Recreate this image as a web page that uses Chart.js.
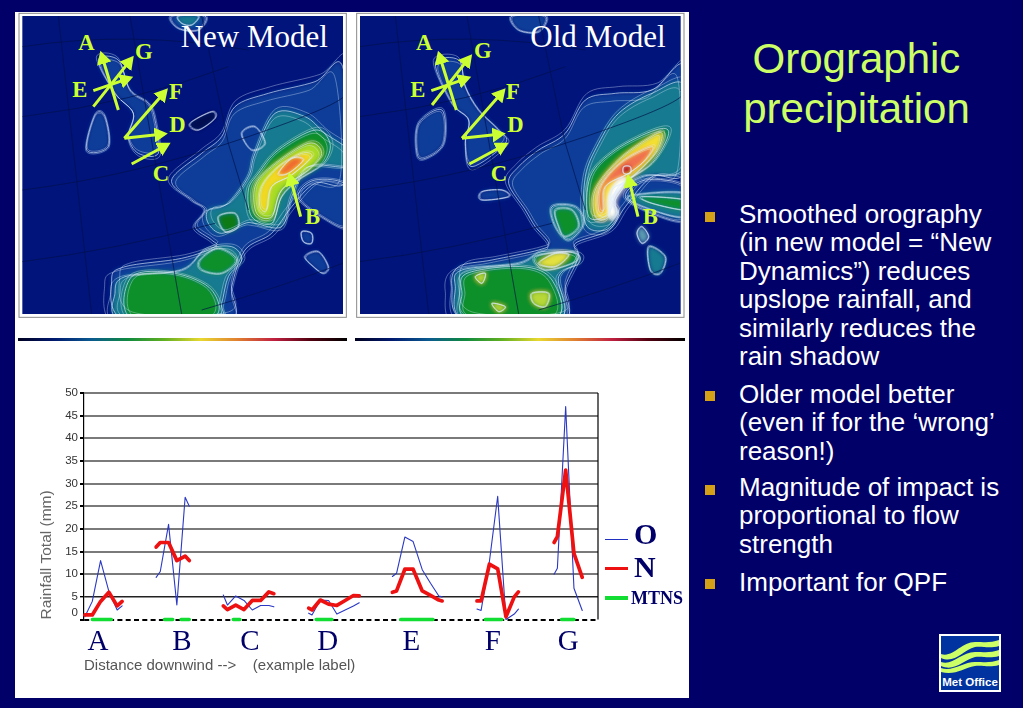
<!DOCTYPE html>
<html>
<head>
<meta charset="utf-8">
<title>Orographic precipitation</title>
<script src="https://cdn.jsdelivr.net/npm/chart.js@4/dist/chart.umd.min.js"></script>
<style>
    html, body { margin: 0; padding: 0; width: 1023px; height: 708px; overflow: hidden; background: #000068; }
    body { position: relative; font-family: "Liberation Sans", Arial, sans-serif; }
    .panel { position: absolute; left: 15px; top: 12px; width: 674px; height: 686px; background: #fff; }
    .map { position: absolute; top: 10px; width: 340px; height: 340px; }
    .bar { position: absolute; top: 338px; height: 3px; background: linear-gradient(to right, #000020, #001a70, #0a5a90, #0f8a40, #60b020, #e8d830, #e08030, #c02040, #500010, #000000); }
    #chartBox { position: absolute; left: 15px; top: 350px; width: 674px; height: 348px; }
    .title { position: absolute; left: 690px; top: 34px; width: 333px; text-align: center; color: #ccff66; font-size: 42px; line-height: 50px; }
    .bullet { position: absolute; left: 739px; color: #fff; font-size: 26px; line-height: 28.4px; white-space: nowrap; }
    .square { position: absolute; left: 705px; width: 10px; height: 10px; background: #d4a017; }
    .key { position: absolute; left: 634px; font-family: "Liberation Serif", serif; font-weight: bold; color: #000068; white-space: nowrap; }
    .swatch { position: absolute; left: 605px; width: 23px; }
</style>
</head>
<body>
<div class="panel"></div>
<div class="bar" style="left:18px;width:329px"></div>
<div class="bar" style="left:355px;width:330px"></div>
<div id="maps"></div>
<div id="chartBox"><canvas id="rainChart"></canvas></div>

<div class="swatch" style="top:539px;height:1px;background:#2030c0"></div>
<div class="key" style="top:517px;font-size:30px">O</div>
<div class="swatch" style="top:567px;height:3px;background:#ee1111"></div>
<div class="key" style="top:550px;font-size:30px">N</div>
<div class="swatch" style="top:596px;height:4px;background:#11dd33"></div>
<div class="key" style="top:588px;font-size:18px;left:631px">MTNS</div>

<div class="title">Orographic<br>precipitation</div>
<div class="square" style="top:212px"></div>
<div class="bullet" style="top:200px">Smoothed orography<br>(in new model = “New<br>Dynamics”) reduces<br>upslope rainfall, and<br>similarly reduces the<br>rain shadow</div>
<div class="square" style="top:391px"></div>
<div class="bullet" style="top:380px">Older model better<br>(even if for the ‘wrong’<br>reason!)</div>
<div class="square" style="top:485px"></div>
<div class="bullet" style="top:473px">Magnitude of impact is<br>proportional to flow<br>strength</div>
<div class="square" style="top:579px"></div>
<div class="bullet" style="top:568px">Important for QPF</div>

<svg style="position:absolute;left:939px;top:634px" width="62" height="58" viewBox="0 0 62 58">
    <rect x="1" y="1" width="60" height="56" fill="#0033a0" stroke="#fff" stroke-width="2"/>
    <path d="M2 20 C14 24 22 8 36 8 C46 8 52 9 60 6 L60 12 C50 15 44 12 36 13 C24 16 16 30 2 24 Z" fill="#ccff66"/>
    <path d="M2 28 C14 32 22 18 36 18 C46 18 52 19 60 16 L60 22 C50 25 44 22 36 23 C24 26 16 38 2 32 Z" fill="#ccff66"/>
    <path d="M2 34 C14 38 24 28 36 28 C46 28 52 29 60 26 L60 31 C50 34 44 31 36 32 C24 34 16 42 2 38 Z" fill="#ccff66"/>
    <text x="31" y="52" text-anchor="middle" fill="#fff" font-size="11.5" font-weight="bold" font-family="Liberation Sans">Met Office</text>
</svg>

<script>
// values, x in tick steps along the axis, null breaks the line between sections
const sectionNames = ['A', 'B', 'C', 'D', 'E', 'F', 'G'];
const sectionLabelAt = [1.7, 11.8, 20, 29.4, 39.5, 49.3, 58.4];
const yTicks = [0, 5, 10, 15, 20, 25, 30, 35, 40, 45, 50];

const distance = [
    0.1, 1, 2, 3, 4, 4.6, null,
    8.7, 9.2, 10.2, 11.2, 12.2, 12.7, null,
    16.8, 17.3, 18.3, 19.3, 20.3, 21.3, 22.3, 22.9, null,
    27.1, 27.5, 28.5, 29.5, 30.5, 31.5, 32.5, 33.2, null,
    37.2, 37.7, 38.7, 39.7, 40.8, 41.8, 42.8, 43.2, null,
    47.4, 47.9, 48.9, 49.9, 50.9, 51.9, 52.4, null,
    56.7, 57.1, 58.1, 59.1, 60.1
];
const oldRain = [
    0.6, 4, 13, 6.2, 2.1, 3, null,
    9.3, 10.6, 21, 3.2, 27, 25, null,
    5.4, 3.2, 5.2, 4.2, 2.1, 3.1, 3.1, 2.8, null,
    1.4, 1, 4.3, 4.2, 1.2, 2.1, 3, 3.7, null,
    9.5, 10.2, 18.2, 17.2, 11, 8, 5.2, 5, null,
    2.3, 2, 12.8, 27.2, 0, 1.2, 2.3, null,
    10, 11.3, 47, 6.9, 2
];
const newRain = [
    1, 1, 4, 6, 3, 4, null,
    16, 17, 17, 13, 14, 13, null,
    3, 2.2, 3.2, 2.2, 4.2, 4.2, 6.1, 5.7, null,
    2.5, 2.1, 4.3, 3.4, 3.1, 4.2, 5.3, 5.2, null,
    6, 6.3, 11.1, 11.1, 6.3, 5.3, 4.3, 4.1, null,
    4.1, 4.1, 12.2, 11.2, 0.6, 5, 6.1, null,
    17, 18.3, 33, 14.6, 9.3
];
const mtnsDistance = [1, 3.3, null, 9.7, 10.7, null, 11.7, 12.7, null, 18, 18.8, null, 28, 29.9, null, 38.2, 42.1, null, 48.4, 50.4, null, 57.6, 59.1];
const mtnsRain = [0, 0, null, 0, 0, null, 0, 0, null, 0, 0, null, 0, 0, null, 0, 0, null, 0, 0, null, 0, 0];

function toPoints(xs, ys) {
    return xs.map((x, i) => ({ x: x === null ? NaN : x, y: ys[i] === null ? NaN : ys[i] }));
}

new Chart(document.getElementById('rainChart'), {
    type: 'scatter',
    data: {
        datasets: [
            { label: 'MTNS', data: toPoints(mtnsDistance, mtnsRain), borderColor: '#11dd33', borderWidth: 3.5, order: 1, clip: false },
            { label: 'N', data: toPoints(distance, newRain), borderColor: '#ee1111', borderWidth: 3.7, order: 2, clip: false },
            { label: 'O', data: toPoints(distance, oldRain), borderColor: '#2a38c4', borderWidth: 1.1, order: 3, clip: false }
        ]
    },
    options: {
        responsive: true,
        maintainAspectRatio: false,
        animation: false,
        showLine: true,
        spanGaps: false,
        elements: { point: { radius: 0 }, line: { tension: 0, borderCapStyle: 'round', borderJoinStyle: 'round' } },
        layout: { padding: { top: 43, right: 91, left: 0, bottom: 0 } },
        plugins: { legend: { display: false }, tooltip: { enabled: false } },
        scales: {
            x: {
                type: 'linear',
                min: 0,
                max: 62,
                afterFit: s => { s.height = 78.5; },
                afterBuildTicks: s => { s.ticks = sectionLabelAt.map(v => ({ value: v })); },
                grid: { drawOnChartArea: false, drawTicks: false },
                border: { display: false },
                ticks: {
                    padding: 5,
                    autoSkip: false,
                    maxRotation: 0,
                    color: '#000068',
                    font: { family: 'Liberation Serif', size: 29 },
                    callback: (v) => sectionNames[sectionLabelAt.indexOf(v)]
                },
                title: {
                    display: true,
                    align: 'start',
                    text: 'Distance downwind -->    (example label)',
                    color: '#555',
                    font: { family: 'Liberation Sans', size: 15 },
                    padding: { top: 0, bottom: 23 }
                }
            },
            y: {
                min: 0,
                max: 50,
                afterFit: s => { s.width = 69; },
                afterBuildTicks: s => { s.ticks = yTicks.map(v => ({ value: v })); },
                grid: {
                    // the zero line is the dotted axis of the original
                    color: c => (c.tick.value === 0 ? '#000' : c.tick.value === 5 ? '#222' : '#7a7a7a'),
                    lineWidth: c => (c.tick.value === 5 ? 1.4 : 2),
                    tickColor: '#000',
                    tickLength: 4
                },
                border: {
                    color: '#000',
                    width: 1.2,
                    dash: c => (c.tick && c.tick.value === 0 ? [5, 3.3] : [])
                },
                ticks: {
                    padding: 2,
                    autoSkip: false,
                    color: '#333',
                    font: { family: 'Liberation Sans', size: 11.5 },
                    // the 0 label sits above the axis line in the original
                    callback: v => (v === 0 ? ['0', ''] : String(v))
                },
                title: {
                    display: true,
                    align: 'start',
                    text: 'Rainfall Total (mm)',
                    color: '#666',
                    font: { family: 'Liberation Sans', size: 15.5 },
                    padding: { top: 22, bottom: 4 }
                }
            }
        }
    },
    plugins: [{
        id: 'frameRight',
        afterDraw(chart) {
            const a = chart.chartArea, ctx = chart.ctx;
            ctx.save();
            ctx.strokeStyle = '#000';
            ctx.lineWidth = 1.2;
            ctx.beginPath();
            ctx.moveTo(a.right, a.top);
            ctx.lineTo(a.right, a.bottom);
            ctx.stroke();
            ctx.restore();
        }
    }]
});

// ---- map backdrops (decoration only, units are 1/3 px inside each 340px box)
const newMapLayers = [
    ['#0b3d98', [[983,170],[900,215],[760,250],[660,290],[620,380],[560,430],[470,510],[530,570],[570,600],[540,650],[590,690],[600,710],[500,745],[330,770],[290,810],[330,930],[640,930],[650,830],[690,720],[770,670],[830,590],[900,520],[1000,500]]],
    ['#0b3d98', [[1000,530],[900,510],[850,560],[920,620],[1000,650]]],
    ['#0b3d98', [[250,150],[310,150],[345,240],[400,280],[420,330],[430,430],[370,430],[340,380],[355,310],[300,250]]],
    ['#0b3d98', [[240,315],[270,320],[280,410],[215,420]]],
    ['#0b3d98', [[680,370],[720,350],[750,400],[710,420]]],
    ['#0b3d98', [[860,665],[890,670],[890,700],[865,695]]],
    ['#0b3d98', [[870,740],[910,725],[940,770],[925,790],[895,770]]],
    ['#0b3d98', [[470,18],[570,18],[550,60],[490,55]]],
    ['#000a50', [[525,340],[590,305],[600,325],[550,360]]],
    ['#127a90', [[780,310],[870,320],[930,370],[1000,420],[1000,470],[880,470],[830,560],[800,650],[720,640],[690,640],[620,670],[580,640],[580,600],[640,580],[700,500],[720,430]]],
    ['#127a90', [[330,800],[500,780],[570,720],[650,710],[680,750],[640,800],[620,880],[600,930],[320,930],[300,850]]],
    ['#127a90', [[490,18],[550,18],[530,45],[500,40]]],
    ['#0c8f2a', [[900,360],[945,400],[925,460],[850,510],[800,560],[770,640],[710,620],[700,540],[730,490],[790,420]]],
    ['#0a7a18', [[610,620],[660,610],[670,650],[630,665]]],
    ['#0c8f2a', [[555,750],[610,715],[665,750],[620,790],[560,780]]],
    ['#0c8f2a', [[350,800],[480,790],[590,840],[590,925],[350,925]]],
    ['#a8dc28', [[880,400],[920,430],[880,480],[800,540],[770,620],[725,610],[720,530],[770,470]]],
    ['#f4d820', [[860,430],[890,440],[830,495],[770,530],[755,600],[735,590],[740,530],[790,470]]],
    ['#f06a30', [[830,445],[865,450],[820,490],[790,490]]]
];
const oldMapLayers = [
    ['#0b3d98', [[1000,170],[900,240],[790,250],[700,270],[640,370],[560,420],[500,470],[470,520],[520,600],[550,650],[590,700],[560,720],[420,750],[320,770],[300,830],[340,930],[630,930],[640,830],[680,740],[670,700],[770,660],[820,590],[900,500],[1000,480]]],
    ['#0b3d98', [[250,160],[320,150],[340,230],[380,300],[440,360],[460,400],[360,470],[340,400],[350,330],[300,280]]],
    ['#0b3d98', [[200,340],[270,300],[275,400],[220,445],[195,430]]],
    ['#0b3d98', [[390,545],[450,540],[470,560],[390,570]]],
    ['#0b3d98', [[1000,530],[880,510],[820,560],[900,610],[1000,630]]],
    ['#5a9ab0', [[870,650],[890,680],[870,700],[855,670]]],
    ['#127a90', [[890,710],[940,740],[925,790],[895,780]]],
    ['#0b3d98', [[480,18],[580,18],[560,65],[500,60]]],
    ['#127a90', [[1000,230],[900,250],[800,310],[740,400],[700,500],[700,640],[760,660],[800,610],[780,560],[870,500],[1000,470]]],
    ['#127a90', [[600,590],[670,590],[695,640],[650,690],[610,650]]],
    ['#127a90', [[330,780],[500,760],[570,725],[670,730],[680,760],[620,800],[620,930],[340,930],[310,830]]],
    ['#127a90', [[830,560],[1000,550],[1000,620],[900,600]]],
    ['#0c8f2a', [[910,360],[950,370],[900,460],[800,530],[770,610],[710,620],[715,500],[790,420]]],
    ['#0c8f2a', [[610,600],[660,600],[680,650],[640,680],[620,650]]],
    ['#0c8f2a', [[345,790],[510,770],[600,810],[610,925],[350,925],[330,850]]],
    ['#0c8f2a', [[550,740],[660,725],[670,755],[580,780]]],
    ['#0c8f2a', [[870,560],[1000,570],[1000,600],[900,580]]],
    ['#f4e030', [[930,370],[910,430],[830,510],[780,540],[770,620],[730,620],[730,540],[800,450],[890,385]]],
    ['#ffffff', [[800,510],[825,515],[790,570],[795,610],[775,625],[770,560]]],
    ['#f07050', [[900,410],[880,450],[830,490],[760,530],[755,600],[740,600],[745,530],[810,455]]],
    ['#b00020', [[815,470],[835,470],[835,490],[815,490]]],
    ['#e4e040', [[560,760],[610,730],[650,735],[610,770]]],
    ['#b8d838', [[370,800],[400,790],[390,820]]],
    ['#b8d838', [[540,850],[590,850],[580,890],[545,880]]],
    ['#b8d838', [[420,880],[460,890],[440,905]]]
];
const newArrows = [[310,300,260,135],[235,290,348,148],[235,242,342,205],[328,385,450,245],[328,385,445,372],[350,462,455,405],[857,620,825,500]];
const oldArrows = [[313,300,262,135],[240,285,352,143],[238,242,345,205],[330,385,452,245],[330,385,448,372],[352,462,458,405],[858,620,830,505]];
const newLetters = [['A',190,120],['G',360,147],['E',172,262],['F',462,267],['D',463,365],['C',413,512],['B',870,642]];
const oldLetters = [['A',192,120],['G',366,143],['E',175,262],['F',462,267],['D',466,365],['C',416,512],['B',872,642]];
const graticule = [
    'M22 110 Q350 60 700 120', 'M22 320 Q350 280 640 170', 'M22 540 Q350 500 700 380 T983 240',
    'M22 755 Q300 720 600 640', 'M560 900 Q800 830 983 760', 'M130 18 L230 912', 'M345 18 L500 912', 'M560 18 L640 400 L700 600'
];

// closed smooth curve through the points
function smoothPath(pts) {
    const n = pts.length;
    let d = 'M' + pts[0][0] + ' ' + pts[0][1];
    for (let i = 0; i < n; i++) {
        const p0 = pts[(i - 1 + n) % n], p1 = pts[i], p2 = pts[(i + 1) % n], p3 = pts[(i + 2) % n];
        d += ' C' + (p1[0] + (p2[0] - p0[0]) / 6) + ' ' + (p1[1] + (p2[1] - p0[1]) / 6) + ' ' +
            (p2[0] - (p3[0] - p1[0]) / 6) + ' ' + (p2[1] - (p3[1] - p1[1]) / 6) + ' ' + p2[0] + ' ' + p2[1];
    }
    return d + 'Z';
}

// same outline pulled in or out around its middle, gives the packed contour look
function ring(pts, scale) {
    const cx = pts.reduce((s, p) => s + p[0], 0) / pts.length;
    const cy = pts.reduce((s, p) => s + p[1], 0) / pts.length;
    return pts.map(p => [cx + (p[0] - cx) * scale, cy + (p[1] - cy) * scale]);
}

function mapSvg(id, left, rectX, layers, arrows, letters, name, nameX) {
    const blobs = layers.map(l => '<path d="' + smoothPath(l[1]) + '" fill="' + l[0] + '"/>').join('');
    const contours = layers.map(l => [1, 1.06, 0.93].map(s => '<path d="' + smoothPath(ring(l[1], s)) + '" fill="none" stroke="#dfeeff" stroke-width="2.4" stroke-opacity="' + (s === 1 ? 0.8 : 0.45) + '"/>').join('')).join('');
    const lines = graticule.map(d => '<path d="' + d + '" fill="none" stroke="#00104a" stroke-width="2"/>').join('');
    const arrowLines = arrows.map(a => '<line x1="' + a[0] + '" y1="' + a[1] + '" x2="' + a[2] + '" y2="' + a[3] + '" stroke="#ccff33" stroke-width="9" marker-end="url(#head' + id + ')"/>').join('');
    const labels = letters.map(t => '<text x="' + t[1] + '" y="' + t[2] + '" fill="#ccff33" font-family="Liberation Serif" font-weight="bold" font-size="68">' + t[0] + '</text>').join('');
    return '<svg class="map" style="left:' + left + 'px" viewBox="0 0 1020 1020">' +
        '<defs><clipPath id="clip' + id + '"><rect x="' + rectX + '" y="18" width="962" height="894"/></clipPath>' +
        '<filter id="soft' + id + '" x="-5%" y="-5%" width="110%" height="110%"><feGaussianBlur stdDeviation="7"/></filter>' +
        '<marker id="head' + id + '" markerWidth="5" markerHeight="5" refX="3" refY="2.5" orient="auto"><path d="M0 0 L4.5 2.5 L0 5 Z" fill="#ccff33"/></marker></defs>' +
        '<rect x="' + (rectX - 10) + '" y="10" width="982" height="912" fill="#fff" stroke="#8a8a8a" stroke-width="3"/>' +
        '<g clip-path="url(#clip' + id + ')"><rect x="0" y="0" width="1020" height="1020" fill="#00147c"/>' +
        '<g filter="url(#soft' + id + ')">' + blobs + '</g>' + contours + lines + '</g>' +
        arrowLines + labels +
        '<text x="' + nameX + '" y="112" fill="#fff" font-family="Liberation Serif" font-size="93">' + name + '</text></svg>';
}

document.getElementById('maps').innerHTML =
    mapSvg('N', 15, 22, newMapLayers, newArrows, newLetters, 'New Model', 497) +
    mapSvg('O', 352, 24, oldMapLayers, oldArrows, oldLetters, 'Old Model', 535);
</script>
</body>
</html>
